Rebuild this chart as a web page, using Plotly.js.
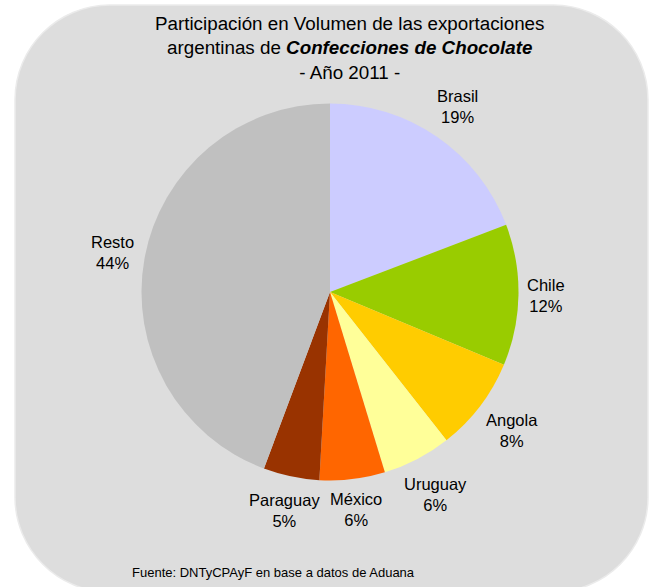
<!DOCTYPE html>
<html>
<head>
<meta charset="utf-8">
<script src="https://cdn.plot.ly/plotly-3.0.1.min.js"></script>
<style>
  html, body { margin: 0; padding: 0; background: #ffffff; }
  #chart { width: 655px; height: 587px; }
</style>
</head>
<body>
<div id="chart"></div>
<script>
// ---- data ----
const countries = ["Brasil", "Chile", "Angola", "Uruguay", "México", "Paraguay", "Resto"];
const shares = [19.2, 12.1, 8.1, 5.9, 5.6, 4.8, 44.3];
const sliceColors = ["#CCCCFF", "#99CC00", "#FFCC00", "#FFFF99", "#FF6600", "#993300", "#C0C0C0"];
const titleText = "Participación en Volumen de las exportaciones<br>argentinas de <b><i>Confecciones de Chocolate</i></b><br>- Año 2011 -";
const sourceText = "Fuente: DNTyCPAyF en base a datos de Aduana";

// ---- layout geometry (pixels) ----
const W = 655, H = 587;
const FONT = '"Liberation Sans", Arial, sans-serif';
const pieCx = 330, pieCy = 292, pieR = 188.5;
const labelGap = 8, labelSize = 16.5, labelLineH = 20;

const fx = x => x / W;
const fy = y => 1 - y / H;

// rounded background panel
const bx0 = 15, by0 = 5, bx1 = 648, by1 = 592, br = 95, k = 0.5523 * br;
const panelPath = [
  `M ${fx(bx0 + br)} ${fy(by0)}`,
  `L ${fx(bx1 - br)} ${fy(by0)}`,
  `C ${fx(bx1 - br + k)} ${fy(by0)} ${fx(bx1)} ${fy(by0 + br - k)} ${fx(bx1)} ${fy(by0 + br)}`,
  `L ${fx(bx1)} ${fy(by1 - br)}`,
  `C ${fx(bx1)} ${fy(by1 - br + k)} ${fx(bx1 - br + k)} ${fy(by1)} ${fx(bx1 - br)} ${fy(by1)}`,
  `L ${fx(bx0 + br)} ${fy(by1)}`,
  `C ${fx(bx0 + br - k)} ${fy(by1)} ${fx(bx0)} ${fy(by1 - br + k)} ${fx(bx0)} ${fy(by1 - br)}`,
  `L ${fx(bx0)} ${fy(by0 + br)}`,
  `C ${fx(bx0)} ${fy(by0 + br - k)} ${fx(bx0 + br - k)} ${fy(by0)} ${fx(bx0 + br)} ${fy(by0)}`,
  'Z'
].join(' ');

// labels positioned outside each slice, derived from the values
const canvas = document.createElement('canvas');
const ctx = canvas.getContext('2d');
ctx.font = labelSize + 'px ' + FONT;
const total = shares.reduce((a, b) => a + b, 0);
const annotations = [];
let cum = 0;
shares.forEach((v, i) => {
  const pct = Math.round(v / total * 100) + '%';
  const mid = (cum + v / 2) / total * 2 * Math.PI;
  cum += v;
  const ux = Math.sin(mid), uy = -Math.cos(mid);
  const w = Math.max(ctx.measureText(countries[i]).width, ctx.measureText(pct).width);
  const h = 2 * labelLineH;
  const d = pieR + labelGap + Math.abs(ux) * w / 2 + Math.abs(uy) * h / 2;
  annotations.push({
    xref: 'paper', yref: 'paper',
    x: fx(pieCx + d * ux), y: fy(pieCy + d * uy),
    xanchor: 'center', yanchor: 'middle',
    text: countries[i] + '<br>' + pct,
    showarrow: false,
    font: { family: FONT, size: labelSize, color: '#000000' }
  });
});

annotations.push({
  xref: 'paper', yref: 'paper', x: fx(349), y: fy(11), xanchor: 'center', yanchor: 'top',
  text: titleText, showarrow: false,
  font: { family: FONT, size: 18.8, color: '#000000' }
});
annotations.push({
  xref: 'paper', yref: 'paper', x: fx(273.5), y: fy(572), xanchor: 'center', yanchor: 'middle',
  text: sourceText, showarrow: false,
  font: { family: FONT, size: 13, color: '#000000' }
});

const trace = {
  type: 'pie',
  labels: countries,
  values: shares,
  sort: false,
  direction: 'clockwise',
  rotation: 0,
  marker: { colors: sliceColors, line: { width: 0 } },
  textinfo: 'none',
  hoverinfo: 'none',
  domain: {
    x: [fx(pieCx - pieR), fx(pieCx + pieR)],
    y: [fy(pieCy + pieR), fy(pieCy - pieR)]
  },
  showlegend: false
};

const layout = {
  width: W, height: H,
  margin: { l: 0, r: 0, t: 0, b: 0 },
  paper_bgcolor: '#ffffff',
  plot_bgcolor: 'rgba(0,0,0,0)',
  showlegend: false,
  shapes: [{
    type: 'path', xref: 'paper', yref: 'paper', layer: 'below',
    path: panelPath, fillcolor: '#DDDDDD', line: { color: '#EBEBEB', width: 1.5 }
  }],
  annotations: annotations
};

Plotly.newPlot('chart', [trace], layout, { displayModeBar: false, staticPlot: true });
</script>
</body>
</html>
